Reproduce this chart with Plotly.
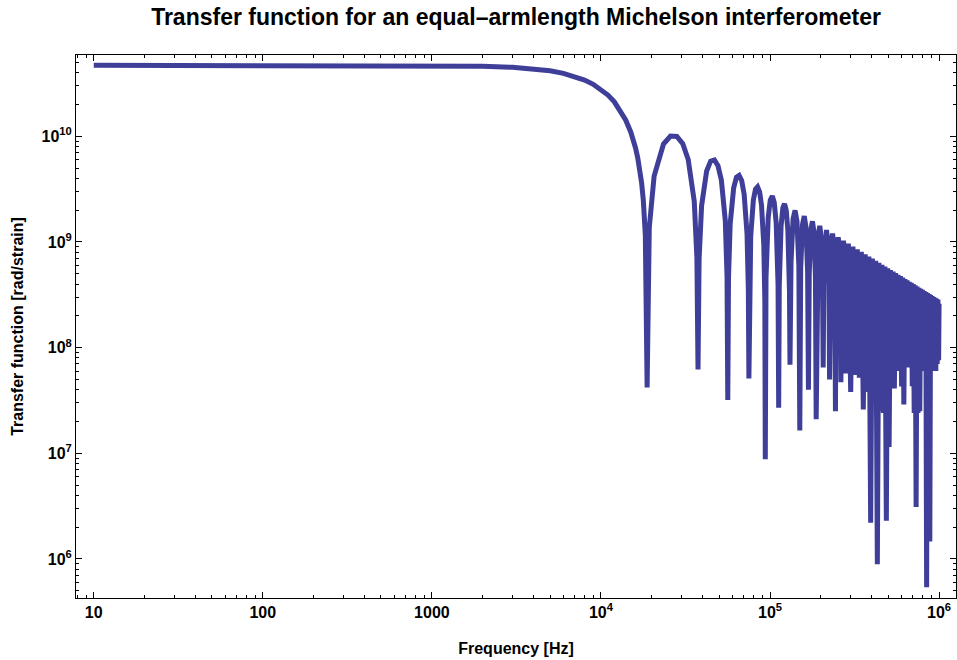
import plotly.graph_objects as go

# transfer function (Hz, rad/strain)

# flat part and roll-off down to the first null
freq_flat = [10, 100, 500, 1000, 2000, 3000, 4000, 5000, 6000, 7000, 8000, 9000,
             10000, 11000, 12000, 13000, 14000, 15000, 15500, 16000, 16500, 17000, 17400, 17800, 18300, 18750]
tf_flat = [4.7e10, 4.7e10, 4.69e10, 4.68e10, 4.61e10, 4.50e10, 4.36e10, 4.17e10, 3.95e10, 3.69e10, 3.41e10, 3.11e10,
           2.79e10, 2.46e10, 2.12e10, 1.77e10, 1.43e10, 1.10e10, 9.35e9, 7.8e9, 6.26e9, 4.8e9, 3.62e9, 2.5e9, 1.16e9, 4.2e7]

# first sidelobes (lobe shape + null at the end of each lobe)
freq_lobes = [
    19312, 20625, 23438, 25781, 28125, 30469, 32812, 35625, 36938, 37500,
    38062, 39375, 42188, 44531, 46875, 49219, 51562, 54375, 55688, 56250,
    56812, 58125, 60938, 63281, 65625, 67969, 70312, 73125, 74438, 75000,
    75562, 76875, 79688, 82031, 84375, 86719, 89062, 91875, 93188, 93750,
    94688, 97500, 100312, 103125, 105938, 108750, 111562, 112500,
    113438, 116250, 119062, 121875, 124688, 127500, 130312, 131250,
    133125, 136875, 140625, 144375, 148125, 150000,
    151875, 155625, 159375, 163125, 166875, 168750,
    170625, 174375, 178125, 181875, 185625, 187500,
    189375, 193125, 196875, 200625, 204375, 206250,
    208125, 211875, 215625, 219375, 223125, 225000,
    226875, 230625, 234375, 238125, 241875, 243750,
    245625, 249375, 253125, 256875, 260625, 262500,
    264375, 268125, 271875, 275625, 279375, 281250,
]
tf_lobes = [
    1.37e9, 4.2e9, 8.46e9, 1.005e10, 9.97e9, 8.5e9, 6.04e9, 2.43e9, 7.1e8, 6.2e7,
    6.9e8, 2.2e9, 4.7e9, 5.82e9, 5.98e9, 5.27e9, 3.85e9, 1.6e9, 4.7e8, 3.2e7,
    4.6e8, 1.49e9, 3.25e9, 4.1e9, 4.27e9, 3.81e9, 2.82e9, 1.19e9, 3.5e8, 5.1e7,
    3.5e8, 1.13e9, 2.49e9, 3.16e9, 3.32e9, 2.99e9, 2.23e9, 9.4e8, 2.8e8, 8.8e6,
    4.6e8, 1.69e9, 2.49e9, 2.72e9, 2.36e9, 1.52e9, 3.9e8, 2.7e7,
    3.9e8, 1.42e9, 2.1e9, 2.3e9, 2.0e9, 1.29e9, 3.4e8, 6.9e7,
    6.5e8, 1.66e9, 1.99e9, 1.57e9, 5.9e8, 1.64e7,
    5.7e8, 1.46e9, 1.76e9, 1.39e9, 5.2e8, 4.0e7,
    5.1e8, 1.3e9, 1.57e9, 1.25e9, 4.7e8, 2.1e7,
    4.6e8, 1.17e9, 1.42e9, 1.13e9, 4.2e8, 6.5e7,
    4.2e8, 1.07e9, 1.3e9, 1.03e9, 3.9e8, 5.0e7,
    3.8e8, 9.8e8, 1.2e9, 9.5e8, 3.6e8, 2.5e7,
    3.5e8, 9.1e8, 1.11e9, 8.8e8, 3.3e8, 4.7e7,
    3.3e8, 8.5e8, 1.03e9, 8.2e8, 3.1e8, 5.7e7,
]

# dense part: lobe tops and null depths alternating
freq_dense = [
    290625, 300000, 309375, 318750, 328125, 337500, 346875, 356250, 365625, 375000,
    384375, 393750, 403125, 412500, 421875, 431250, 440625, 450000, 459375, 468750,
    478125, 487500, 496875, 506250, 515625, 525000, 534375, 543750, 553125, 562500,
    571875, 581250, 590625, 600000, 609375, 618750, 628125, 637500, 646875, 656250,
    665625, 675000, 684375, 693750, 703125, 712500, 721875, 731250, 740625, 750000,
    759375, 768750, 778125, 787500, 796875, 806250, 815625, 825000, 834375, 843750,
    853125, 862500, 871875, 881250, 890625, 900000, 909375, 918750, 928125, 937500,
    946875, 956250, 965625, 975000, 984375, 993750, 1000000,
]
tf_dense = [
    9.65e8, 3.8e7, 9.07e8, 5.5e7, 8.55e8, 5.2e7, 8.09e8, 2.6e7, 7.67e8, 3.8e7,
    7.3e8, 2.2e6, 6.96e8, 7.0e7, 6.65e8, 8.9e5, 6.37e8, 2.5e7, 6.1e8, 2.4e7,
    5.87e8, 2.3e6, 5.65e8, 1.15e7, 5.44e8, 6.5e7, 5.25e8, 4.1e7, 5.07e8, 7.0e7,
    4.9e8, 6.0e7, 4.75e8, 4.3e7, 4.6e8, 2.9e7, 4.47e8, 6.5e7, 4.34e8, 7.0e7,
    4.21e8, 6.5e7, 4.1e8, 4.3e7, 3.99e8, 2.4e7, 3.89e8, 3.1e6, 3.79e8, 2.4e7,
    3.69e8, 2.5e7, 3.6e8, 6.0e7, 3.52e8, 7.5e7, 3.44e8, 6.5e7, 3.36e8, 5.4e5,
    3.29e8, 1.5e6, 3.22e8, 1.46e6, 3.15e8, 7.0e7, 3.08e8, 6.0e7, 3.02e8, 6.5e7,
    2.96e8, 6.0e7, 2.9e8, 7.0e7, 2.85e8, 7.6e7, 2.6e8,
]

x_tickvals = [10, 100, 1000, 1e4, 1e5, 1e6]
x_ticktext = ['10', '100', '1000', '10<sup>4</sup>', '10<sup>5</sup>', '10<sup>6</sup>']
y_tickvals = [1e6, 1e7, 1e8, 1e9, 1e10]
y_ticktext = ['10<sup>6</sup>', '10<sup>7</sup>', '10<sup>8</sup>', '10<sup>9</sup>', '10<sup>10</sup>']

freq = freq_flat + freq_lobes + freq_dense
tf = tf_flat + tf_lobes + tf_dense

fig = go.Figure()
fig.add_trace(go.Scatter(x=freq, y=tf, mode='lines',
                         line=dict(color='#3f3f9a', width=5)))

tick_font = dict(family='Liberation Sans, Arial, sans-serif', size=16, color='black', weight='bold')
label_font = dict(family='Liberation Sans, Arial, sans-serif', size=16, color='black', weight='bold')

# minor ticks at 2..9 in every decade
x_minor = [m * 10 ** e for e in range(0, 7) for m in range(2, 10)]
y_minor = [m * 10 ** e for e in range(5, 11) for m in range(2, 10)]

fig.update_layout(
    width=957, height=660,
    margin=dict(l=76, r=1, t=55, b=62),
    plot_bgcolor='white', paper_bgcolor='white',
    showlegend=False,
    title=dict(text='Transfer function for an equal\u2013armlength Michelson interferometer',
               x=0.5, xref='paper', xanchor='center',
               y=1 - 17 / 660, yref='container', yanchor='middle',
               font=dict(family='Liberation Sans, Arial, sans-serif', size=23, color='black', weight='bold')),
)

fig.update_xaxes(
    type='log', range=[0.895, 6.10],
    showline=True, linecolor='black', linewidth=1, mirror='allticks',
    ticks='inside', ticklen=6, tickcolor='black',
    tickmode='array', tickvals=x_tickvals, ticktext=x_ticktext,
    tickfont=tick_font,
    minor=dict(ticks='inside', ticklen=3, tickcolor='black', tickmode='array', tickvals=x_minor, showgrid=False),
    showgrid=False, zeroline=False,
    title=dict(text='Frequency [Hz]', font=label_font, standoff=22),
)
fig.update_yaxes(
    type='log', range=[5.63, 10.77],
    showline=True, linecolor='black', linewidth=1, mirror='allticks',
    ticks='inside', ticklen=6, tickcolor='black',
    tickmode='array', tickvals=y_tickvals, ticktext=y_ticktext,
    tickfont=tick_font,
    minor=dict(ticks='inside', ticklen=3, tickcolor='black', tickmode='array', tickvals=y_minor, showgrid=False),
    showgrid=False, zeroline=False,
    title=dict(text='Transfer function [rad/strain]', font=label_font, standoff=13),
)

# drop the default page margin so the figure sits at the window's corner
fig.write_html('out.html', config={'displayModeBar': False},
               post_script="document.body.style.margin = '0';")
